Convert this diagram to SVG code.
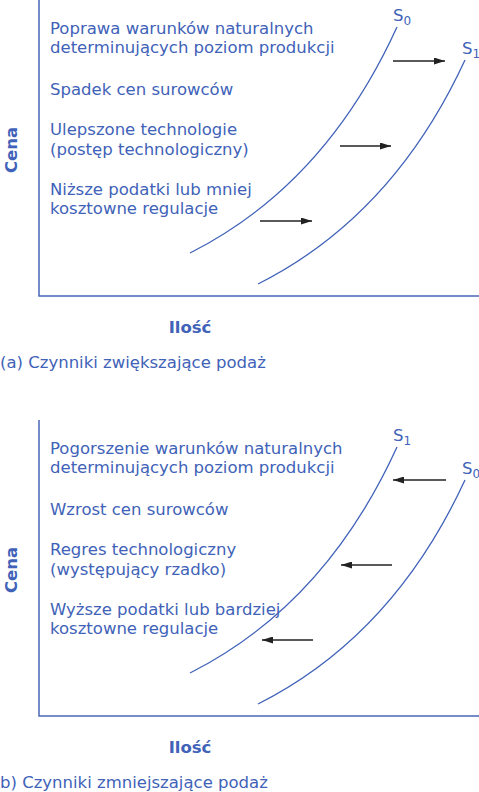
<svg xmlns="http://www.w3.org/2000/svg" width="479" height="792" viewBox="0 0 479 792">
<defs>
<style>
text{font-family:"DejaVu Sans","Liberation Sans",sans-serif;fill:#4062b8;font-size:16.5px}
.ax{font-weight:bold}
.sub{font-size:12px}
.axis{fill:none;stroke:#4a67b8;stroke-width:1.5}
.curve{fill:none;stroke:#4062b8;stroke-width:1.3}
.arr{stroke:#222;stroke-width:1.4;fill:none;marker-end:url(#ah)}
</style>
<marker id="ah" viewBox="0 0 10 10" refX="10" refY="5" markerWidth="11" markerHeight="7" markerUnits="userSpaceOnUse" orient="auto" preserveAspectRatio="none">
<path d="M0,0 L10,5 L0,10 z" fill="#222"/>
</marker>
</defs>
<g id="panel-a">
<g id="axes-a">
<path class="axis" d="M39,0 V296 H479"/>
<text class="ax" x="190" y="333" text-anchor="middle">Ilość</text>
<text class="ax" transform="translate(17,150) rotate(-90)" text-anchor="middle">Cena</text>
</g>
<g id="labels-a">
<text x="50" y="34">Poprawa warunków naturalnych</text>
<text x="50" y="53">determinujących poziom produkcji</text>
<text x="50" y="95">Spadek cen surowców</text>
<text x="50" y="135">Ulepszone technologie</text>
<text x="50" y="155">(postęp technologiczny)</text>
<text x="50" y="195">Niższe podatki lub mniej</text>
<text x="50" y="214">kosztowne regulacje</text>
</g>
<g id="S0-a">
<path class="curve" d="M190,253 Q325,185 397,27"/>
<text x="393" y="21">S<tspan class="sub" dy="4">0</tspan></text>
</g>
<g id="S1-a">
<path class="curve" d="M258,284 Q393,216 465,60"/>
<text x="462" y="54">S<tspan class="sub" dy="4">1</tspan></text>
</g>
<text id="caption-a" x="0" y="368">(a) Czynniki zwiększające podaż</text>
</g>
<g id="panel-b">
<g id="axes-b">
<path class="axis" d="M39,420 V716 H479"/>
<text class="ax" x="190" y="753" text-anchor="middle">Ilość</text>
<text class="ax" transform="translate(17,570) rotate(-90)" text-anchor="middle">Cena</text>
</g>
<g id="labels-b">
<text x="50" y="454">Pogorszenie warunków naturalnych</text>
<text x="50" y="473">determinujących poziom produkcji</text>
<text x="50" y="515">Wzrost cen surowców</text>
<text x="50" y="555">Regres technologiczny</text>
<text x="50" y="575">(występujący rzadko)</text>
<text x="50" y="615">Wyższe podatki lub bardziej</text>
<text x="50" y="634">kosztowne regulacje</text>
</g>
<g id="S1-b">
<path class="curve" d="M190,673 Q325,605 397,447"/>
<text x="393" y="441">S<tspan class="sub" dy="4">1</tspan></text>
</g>
<g id="S0-b">
<path class="curve" d="M258,704 Q393,636 465,480"/>
<text x="462" y="474">S<tspan class="sub" dy="4">0</tspan></text>
</g>
<text id="caption-b" x="0" y="788">b) Czynniki zmniejszające podaż</text>
</g>
<g id="connectors">
<line class="arr" x1="393" y1="61" x2="445" y2="61"/>
<line class="arr" x1="340" y1="146" x2="391" y2="146"/>
<line class="arr" x1="260" y1="221" x2="312" y2="221"/>
<line class="arr" x1="446" y1="480" x2="393" y2="480"/>
<line class="arr" x1="392" y1="565" x2="341" y2="565"/>
<line class="arr" x1="313" y1="640" x2="262" y2="640"/>
</g>
</svg>
